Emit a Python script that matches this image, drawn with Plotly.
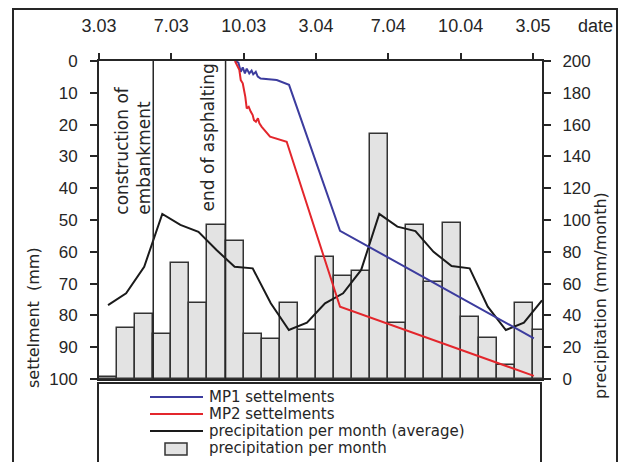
import plotly.graph_objects as go

# ---- data -------------------------------------------------------------
# monthly precipitation (mm/month), one bar per month starting 3.03
precip_month = [1, 32, 41, 28, 73, 48, 97, 87, 28, 25, 48, 31,
                77, 65, 68, 154, 35, 97, 61, 98, 39, 26, 9, 48, 31]
# long-term average precipitation per month (mm/month)
avg_x = [0.5, 1.5, 2.5, 3.5, 4.5, 5.5, 6.5, 7.5, 8.5, 9.5, 10.5, 11.5,
         12.5, 13.5, 14.5, 15.5, 16.5, 17.5, 18.5, 19.5, 20.5, 21.5, 22.5, 23.5, 24.5]
avg_precip = [46.5, 53.9, 70.6, 103.8, 96.9, 92.6, 81.1, 70.6, 69.6, 47.6, 30.8, 35.4,
              47.6, 53.9, 68.6, 103.8, 95.8, 93.0, 80.0, 71.0, 69.6, 45.5, 30.8, 35.4, 49.5]
# settlement measurements (months since 3.03, mm)
mp1_t = [7.52, 7.71, 7.84, 7.95, 8.07, 8.17, 8.31, 8.44, 8.53, 8.67, 8.78, 8.94, 9.83, 10.51, 13.33, 24.05]
mp1_s = [0.0, 0.5, 3.4, 2.0, 3.9, 2.4, 3.9, 3.0, 4.2, 3.4, 4.9, 5.5, 6.0, 7.5, 53.4, 87.2]
mp2_t = [7.52, 7.76, 7.84, 7.95, 8.02, 8.09, 8.17, 8.28, 8.39, 8.50, 8.57, 8.68, 8.79, 8.87, 9.00, 9.46, 10.38, 13.33, 24.05]
mp2_s = [0.0, 2.8, 6.0, 7.0, 9.1, 11.2, 14.9, 14.4, 15.9, 17.0, 18.6, 19.1, 18.0, 19.6, 20.7, 23.8, 25.4, 77.3, 99.0]
# date axis
date_ticks = [0, 4, 8, 12, 16, 20, 24]
date_labels = ["3.03", "7.03", "10.03", "3.04", "7.04", "10.04", "3.05"]
# construction events (month boundaries)
event_months = [3, 7]
event_labels = ["construction of<br>embankment", "end of asphalting"]
event_label_x = [1.9, 6.05]
event_label_s = [49.0, 47.8]

# ---- styling ----------------------------------------------------------
W, H = 622, 462
PL, PR, PT, PB = 99, 542, 61, 379
INK = "#262626"
BLUE = "#3c3c9e"
RED = "#e3262c"
BAR_FILL = "#e3e3e3"
WIDE = "DejaVu Sans"
TICKF = "Liberation Sans, Arial, sans-serif"


def px_x(x):
    return (x - PL) / (PR - PL)


def px_y(y):
    return (PB - y) / (PB - PT)


fig = go.Figure()

fig.add_trace(go.Bar(
    x=[i + 0.5 for i in range(len(precip_month))], y=precip_month, width=1.0,
    marker=dict(color=BAR_FILL, line=dict(color="#333333", width=1.5)),
    xaxis="x", yaxis="y", showlegend=False, name="precipitation per month"))
fig.add_trace(go.Scatter(
    x=avg_x, y=avg_precip, mode="lines", line=dict(color="#1a1a1a", width=2),
    xaxis="x", yaxis="y", showlegend=False, name="precipitation per month (average)"))
fig.add_trace(go.Scatter(
    x=mp1_t, y=mp1_s, mode="lines", line=dict(color=BLUE, width=2),
    xaxis="x", yaxis="y2", showlegend=False, name="MP1 settelments"))
fig.add_trace(go.Scatter(
    x=mp2_t, y=mp2_s, mode="lines", line=dict(color=RED, width=2),
    xaxis="x", yaxis="y2", showlegend=False, name="MP2 settelments"))

shapes = []
for m in event_months:
    shapes.append(dict(type="line", xref="x", yref="paper", x0=m, x1=m, y0=0, y1=1,
                       line=dict(color=INK, width=1.5), layer="above"))

# outer frame and legend box
shapes.append(dict(type="rect", xref="paper", yref="paper",
                   x0=px_x(13), x1=px_x(617), y0=px_y(475), y1=px_y(9),
                   line=dict(color=INK, width=2)))
shapes.append(dict(type="rect", xref="paper", yref="paper",
                   x0=px_x(98), x1=px_x(541), y0=px_y(475), y1=px_y(383),
                   line=dict(color=INK, width=2)))

annotations = []
for lab, ex, es in zip(event_labels, event_label_x, event_label_s):
    annotations.append(dict(text=lab, xref="x", yref="y2", x=ex, y=es, textangle=-90,
                            xanchor="center", yanchor="bottom", align="left", showarrow=False,
                            font=dict(family=WIDE, size=17, color=INK)))

# legend rows
legend_rows = [("line", BLUE, "MP1 settelments", 397),
               ("line", RED, "MP2 settelments", 414),
               ("line", "#1a1a1a", "precipitation per month (average)", 431),
               ("box", BAR_FILL, "precipitation per month", 448)]
for kind, col, text, yrow in legend_rows:
    if kind == "line":
        shapes.append(dict(type="line", xref="paper", yref="paper",
                           x0=px_x(150), x1=px_x(203), y0=px_y(yrow), y1=px_y(yrow),
                           line=dict(color=col, width=2)))
    else:
        shapes.append(dict(type="rect", xref="paper", yref="paper",
                           x0=px_x(165), x1=px_x(187), y0=px_y(yrow + 7), y1=px_y(yrow - 5),
                           fillcolor=col, line=dict(color="#333333", width=1.5)))
    annotations.append(dict(text=text, xref="paper", yref="paper", x=px_x(207), y=px_y(yrow),
                            xanchor="left", yanchor="middle", showarrow=False,
                            font=dict(family=WIDE, size=15, color=INK)))

# axis titles
annotations.append(dict(text="settelment  (mm)", xref="paper", yref="paper",
                        x=px_x(33), y=px_y(318), textangle=-90, showarrow=False,
                        xanchor="center", yanchor="middle",
                        font=dict(family=WIDE, size=16, color=INK)))
annotations.append(dict(text="precipitation (mm/month)", xref="paper", yref="paper",
                        x=px_x(600), y=px_y(296), textangle=-90, showarrow=False,
                        xanchor="center", yanchor="middle",
                        font=dict(family=WIDE, size=16, color=INK)))
annotations.append(dict(text="date", xref="paper", yref="paper",
                        x=px_x(595), y=px_y(26), showarrow=False,
                        xanchor="center", yanchor="middle",
                        font=dict(family=TICKF, size=18, color=INK)))

fig.update_layout(
    width=W, height=H, autosize=False,
    margin=dict(l=PL, r=W - PR, t=PT, b=H - PB, pad=0),
    paper_bgcolor="white", plot_bgcolor="white",
    bargap=0, showlegend=False,
    xaxis=dict(range=[0, 24.5], side="top", tickmode="array", tickvals=date_ticks,
               ticktext=date_labels, ticks="outside", ticklen=6, tickwidth=1.5,
               tickcolor=INK, showline=True, linecolor=INK, linewidth=2, mirror=True,
               showgrid=False, zeroline=False, ticklabelstandoff=14,
               tickfont=dict(family=TICKF, size=18, color=INK)),
    yaxis=dict(range=[0, 200], side="right", tickmode="linear", tick0=0, dtick=20,
               ticks="outside", ticklen=7, tickwidth=1.5, tickcolor=INK,
               showline=True, linecolor=INK, linewidth=2, showgrid=False,
               zeroline=False, ticklabelstandoff=8,
               tickfont=dict(family=TICKF, size=17, color=INK)),
    yaxis2=dict(range=[100, 0], side="left", overlaying="y", tickmode="linear",
                tick0=0, dtick=10, ticks="outside", ticklen=7, tickwidth=1.5,
                tickcolor=INK, showline=True, linecolor=INK, linewidth=2,
                showgrid=False, zeroline=False, ticklabelstandoff=9,
                tickfont=dict(family=TICKF, size=17, color=INK)),
    shapes=shapes,
    annotations=annotations,
)

fig.write_html("out.html")
